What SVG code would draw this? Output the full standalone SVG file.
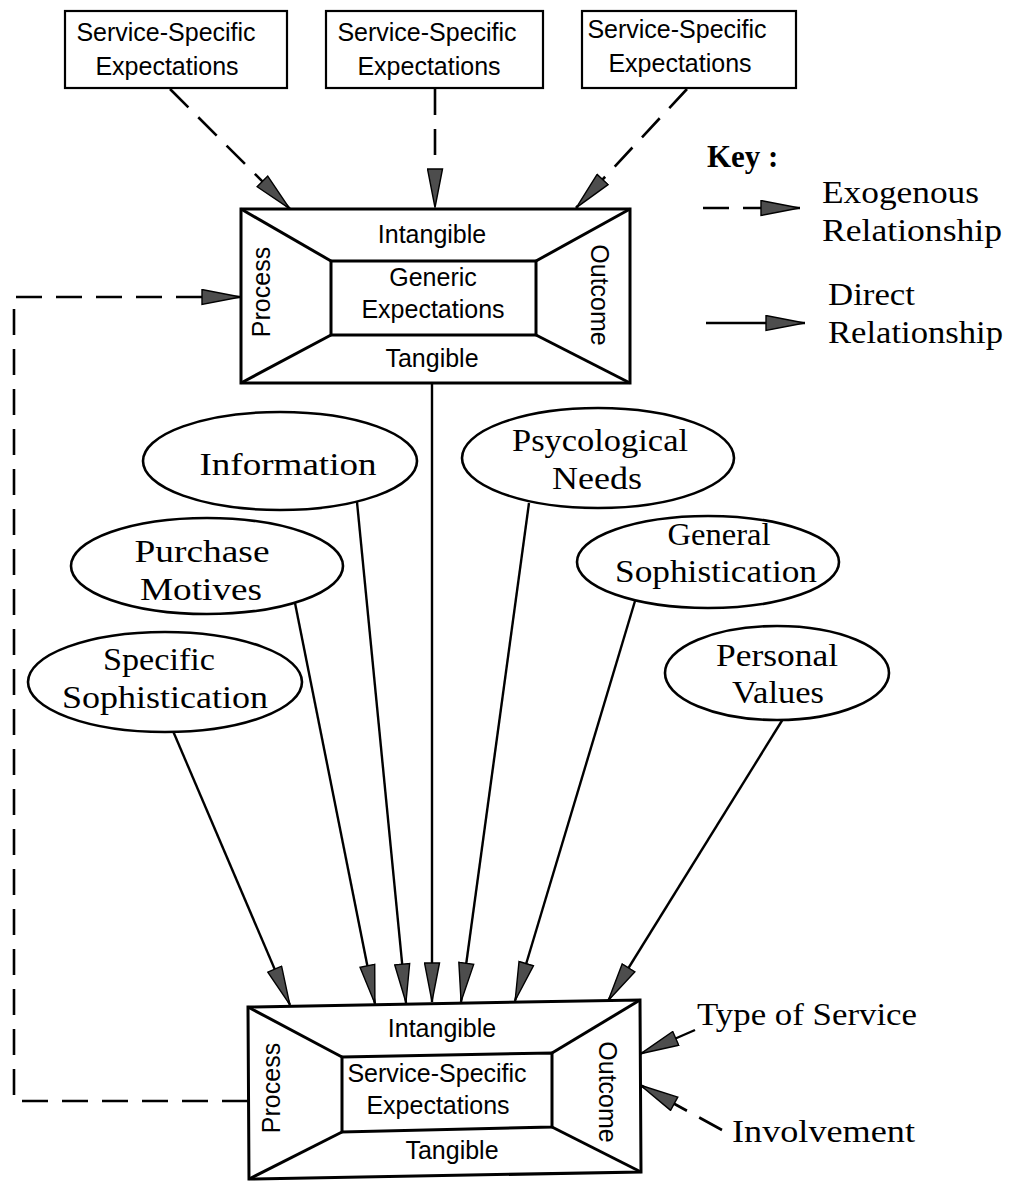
<svg xmlns="http://www.w3.org/2000/svg" width="1012" height="1181" viewBox="0 0 1012 1181">
  <style>
    .box { fill: none; stroke: #000; stroke-width: 2.2; }
    .frame { fill: none; stroke: #000; stroke-width: 3; stroke-linejoin: miter; }
    .oval { fill: #fff; stroke: #000; stroke-width: 2.6; }
    .sans { font-family: "Liberation Sans", Arial, sans-serif; font-size: 25px; fill: #000; }
    .serif { font-family: "Liberation Serif", "Times New Roman", serif; font-size: 32px; fill: #000; }
    .key { font-family: "Liberation Serif", "Times New Roman", serif; font-size: 31px; font-weight: bold; fill: #000; }
    .solid { fill: none; stroke: #000; stroke-width: 2.4; }
    .dash { fill: none; stroke: #000; stroke-width: 2.6; stroke-dasharray: 26 14; }
    .mid { text-anchor: middle; }
  </style>
  <defs>
    <marker id="head" viewBox="0 0 40 17" refX="40" refY="8.5" markerWidth="40" markerHeight="17" markerUnits="userSpaceOnUse" orient="auto">
      <path d="M1,1 L39.5,8.5 L1,16 Z" fill="#4d4d4d" stroke="#000" stroke-width="1.4" stroke-linejoin="miter"/>
    </marker>
  </defs>

  <rect width="1012" height="1181" fill="#fff"/>

  <!-- connectors -->
  <g id="connectors">
    <!-- from the three service-specific boxes into the generic box -->
    <line class="dash" x1="170" y1="89" x2="290" y2="209" marker-end="url(#head)"/>
    <line class="dash" x1="435" y1="89" x2="435" y2="208" marker-end="url(#head)"/>
    <line class="dash" x1="687" y1="89" x2="576" y2="208" marker-end="url(#head)"/>
    <!-- feedback loop from service-specific back to generic -->
    <polyline class="dash" points="248,1101 14,1101 14,297 241,297" marker-end="url(#head)"/>
    <!-- antecedents into service-specific expectations -->
    <line class="solid" x1="173" y1="731" x2="290" y2="1005" marker-end="url(#head)"/>
    <line class="solid" x1="295" y1="603" x2="375" y2="1004" marker-end="url(#head)"/>
    <line class="solid" x1="357" y1="502" x2="406" y2="1003" marker-end="url(#head)"/>
    <line class="solid" x1="432" y1="383" x2="432" y2="1002" marker-end="url(#head)"/>
    <line class="solid" x1="529" y1="503" x2="461" y2="1002" marker-end="url(#head)"/>
    <line class="solid" x1="635" y1="601" x2="515" y2="1001" marker-end="url(#head)"/>
    <line class="solid" x1="783" y1="719" x2="608" y2="1001" marker-end="url(#head)"/>
    <!-- moderators on the outcome side -->
    <line class="solid" x1="695" y1="1030" x2="640" y2="1054" marker-end="url(#head)"/>
    <line class="dash" x1="722" y1="1130" x2="640" y2="1085" stroke-dasharray="24 12" marker-end="url(#head)"/>
  </g>

  <!-- upper service-specific boxes -->
  <g id="ss-box-1">
    <rect class="box" x="65" y="11" width="222" height="77"/>
    <text class="sans mid" x="166" y="41">Service-Specific</text>
    <text class="sans mid" x="167" y="75">Expectations</text>
  </g>
  <g id="ss-box-2">
    <rect class="box" x="326" y="11" width="217" height="77"/>
    <text class="sans mid" x="427" y="41">Service-Specific</text>
    <text class="sans mid" x="429" y="75">Expectations</text>
  </g>
  <g id="ss-box-3">
    <rect class="box" x="582" y="11" width="214" height="77"/>
    <text class="sans mid" x="677" y="38">Service-Specific</text>
    <text class="sans mid" x="680" y="72">Expectations</text>
  </g>

  <!-- generic expectations frame -->
  <g id="generic">
    <rect class="frame" x="241" y="209" width="389" height="174"/>
    <rect class="frame" x="331" y="261" width="205" height="74"/>
    <line class="frame" x1="241" y1="209" x2="331" y2="261"/>
    <line class="frame" x1="630" y1="209" x2="536" y2="261"/>
    <line class="frame" x1="241" y1="383" x2="331" y2="335"/>
    <line class="frame" x1="630" y1="383" x2="536" y2="335"/>
    <text class="sans mid" x="432" y="243">Intangible</text>
    <text class="sans mid" x="433" y="286">Generic</text>
    <text class="sans mid" x="433" y="318">Expectations</text>
    <text class="sans mid" x="432" y="367">Tangible</text>
    <text class="sans mid" transform="translate(270 292) rotate(-90)">Process</text>
    <text class="sans mid" transform="translate(591 295) rotate(90)">Outcome</text>
  </g>

  <!-- antecedent ellipses -->
  <g id="information">
    <ellipse class="oval" cx="280" cy="461" rx="137" ry="49"/>
    <text class="serif mid" x="288" y="475" textLength="177" lengthAdjust="spacingAndGlyphs">Information</text>
  </g>
  <g id="psychological-needs">
    <ellipse class="oval" cx="598" cy="458" rx="136" ry="50"/>
    <text class="serif mid" x="600" y="451" textLength="176" lengthAdjust="spacingAndGlyphs">Psycological</text>
    <text class="serif mid" x="597" y="489" textLength="90" lengthAdjust="spacingAndGlyphs">Needs</text>
  </g>
  <g id="purchase-motives">
    <ellipse class="oval" cx="207" cy="566" rx="136" ry="48"/>
    <text class="serif mid" x="202" y="562" textLength="135" lengthAdjust="spacingAndGlyphs">Purchase</text>
    <text class="serif mid" x="201" y="600" textLength="122" lengthAdjust="spacingAndGlyphs">Motives</text>
  </g>
  <g id="general-sophistication">
    <ellipse class="oval" cx="708" cy="562" rx="131" ry="46"/>
    <text class="serif mid" x="719" y="545" textLength="103" lengthAdjust="spacingAndGlyphs">General</text>
    <text class="serif mid" x="716" y="582" textLength="202" lengthAdjust="spacingAndGlyphs">Sophistication</text>
  </g>
  <g id="specific-sophistication">
    <ellipse class="oval" cx="165" cy="682" rx="137" ry="50"/>
    <text class="serif mid" x="159" y="670" textLength="112" lengthAdjust="spacingAndGlyphs">Specific</text>
    <text class="serif mid" x="165" y="708" textLength="206" lengthAdjust="spacingAndGlyphs">Sophistication</text>
  </g>
  <g id="personal-values">
    <ellipse class="oval" cx="777" cy="673" rx="112" ry="47"/>
    <text class="serif mid" x="777" y="666" textLength="122" lengthAdjust="spacingAndGlyphs">Personal</text>
    <text class="serif mid" x="778" y="703" textLength="92" lengthAdjust="spacingAndGlyphs">Values</text>
  </g>

  <!-- service-specific expectations frame -->
  <g id="service-specific">
    <polygon class="frame" points="248,1007 640,1000 641,1172 249,1179"/>
    <polygon class="frame" points="342,1057 552,1053 552,1127 342,1132"/>
    <line class="frame" x1="248" y1="1007" x2="342" y2="1057"/>
    <line class="frame" x1="640" y1="1000" x2="552" y2="1053"/>
    <line class="frame" x1="249" y1="1179" x2="342" y2="1132"/>
    <line class="frame" x1="641" y1="1172" x2="552" y2="1127"/>
    <text class="sans mid" x="442" y="1037">Intangible</text>
    <text class="sans mid" x="437" y="1082">Service-Specific</text>
    <text class="sans mid" x="438" y="1114">Expectations</text>
    <text class="sans mid" x="452" y="1159">Tangible</text>
    <text class="sans mid" transform="translate(280 1088) rotate(-90)">Process</text>
    <text class="sans mid" transform="translate(599 1092) rotate(90)">Outcome</text>
  </g>

  <!-- moderator labels -->
  <g id="type-of-service">
    <text class="serif" x="697" y="1025" textLength="220" lengthAdjust="spacingAndGlyphs">Type of Service</text>
  </g>
  <g id="involvement">
    <text class="serif" x="732" y="1142" textLength="183" lengthAdjust="spacingAndGlyphs">Involvement</text>
  </g>

  <!-- key -->
  <g id="key">
    <text class="key" x="707" y="167">Key :</text>
    <line class="dash" x1="703" y1="208" x2="800" y2="208" stroke-dasharray="25 12" marker-end="url(#head)"/>
    <text class="serif" x="822" y="203" textLength="157" lengthAdjust="spacingAndGlyphs">Exogenous</text>
    <text class="serif" x="822" y="241" textLength="180" lengthAdjust="spacingAndGlyphs">Relationship</text>
    <line class="solid" x1="706" y1="323" x2="805" y2="323" marker-end="url(#head)"/>
    <text class="serif" x="828" y="305" textLength="87" lengthAdjust="spacingAndGlyphs">Direct</text>
    <text class="serif" x="828" y="343" textLength="175" lengthAdjust="spacingAndGlyphs">Relationship</text>
  </g>
</svg>
